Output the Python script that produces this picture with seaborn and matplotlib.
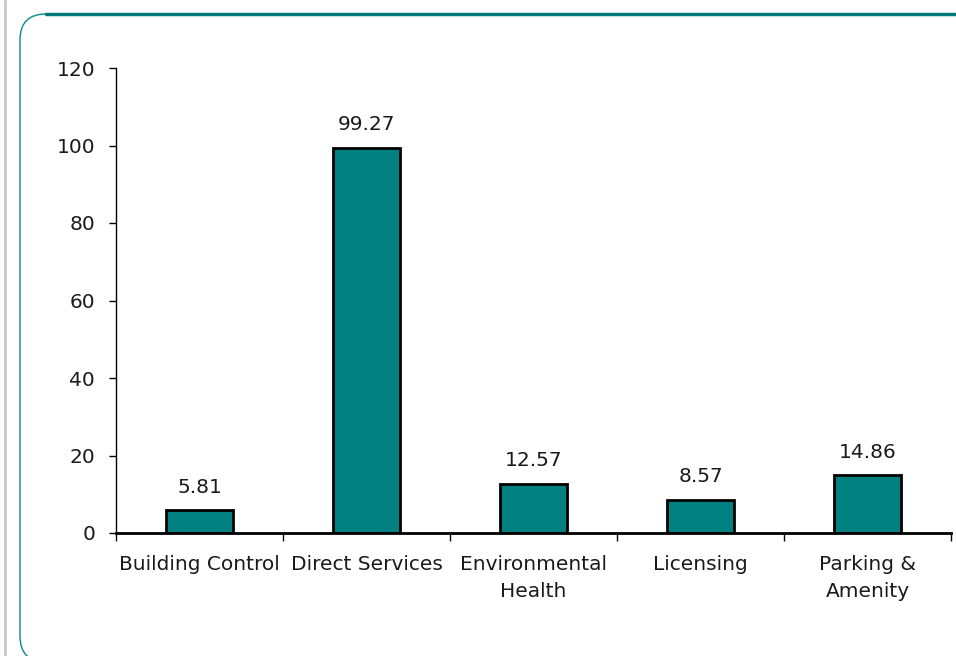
import matplotlib
matplotlib.use("Agg")
import matplotlib.pyplot as plt
import seaborn as sns
import pandas as pd
from matplotlib.patches import FancyBboxPatch
from matplotlib.lines import Line2D
from matplotlib.transforms import IdentityTransform

categories = ["Building Control", "Direct Services", "Environmental\nHealth", "Licensing", "Parking &\nAmenity"]
values = [5.81, 99.27, 12.57, 8.57, 14.86]
labels = ["5.81", "99.27", "12.57", "8.57", "14.86"]

sns.set_theme(style="white")
plt.rcParams['font.family'] = ['DejaVu Sans']

W, H = 956, 656
fig = plt.figure(figsize=(W/100, H/100), dpi=100)
ax = fig.add_axes([116/W, (H-533)/H, (951-116)/W, (533-68)/H])

df = pd.DataFrame({"cat": categories, "val": values})
sns.barplot(data=df, x="cat", y="val", ax=ax, color="#008080", width=0.4,
            edgecolor="black", linewidth=2, saturation=1)
ax.bar_label(ax.containers[0], labels=labels, padding=10, fontsize=14.5, color="#1a1a1a")

ax.set_ylim(0, 120)
ax.set_yticks(range(0, 121, 20))
ax.set_xlim(-0.5, 4.5)
ax.set_xticks([x - 0.5 for x in range(6)], minor=True)
ax.tick_params(axis='x', which='minor', length=6, width=1, color='black', direction='out', bottom=True)
ax.tick_params(axis='x', which='major', length=0, labelsize=14.5, pad=16, labelcolor="#1a1a1a")
for t in ax.get_xticklabels():
    t.set_linespacing(1.55)
ax.tick_params(axis='y', length=5, width=1, color='black', direction='out', left=True, labelsize=14.5, pad=10, labelcolor="#1a1a1a")
ax.set_xlabel("")
ax.set_ylabel("")
for s in ["top", "right"]:
    ax.spines[s].set_visible(False)
ax.spines["left"].set_color("black")
ax.spines["left"].set_linewidth(1)
ax.spines["bottom"].set_color("black")
ax.spines["bottom"].set_linewidth(2)

# decorative frame (pixel coordinates)
frame = FancyBboxPatch((20, -6), 1100, (H - 14) + 6,
                       boxstyle="round,pad=0,rounding_size=26",
                       transform=IdentityTransform(), fill=False,
                       edgecolor="#0a8a86", linewidth=1.0, clip_on=False)
fig.patches.append(frame)
fig.add_artist(Line2D([46, W], [H - 14, H - 14], transform=IdentityTransform(),
                      color="#007a78", linewidth=2.5))
fig.add_artist(Line2D([5, 5], [0, H], transform=IdentityTransform(),
                      color="#c8c8c8", linewidth=2))

fig.savefig("out.png", dpi=100)
